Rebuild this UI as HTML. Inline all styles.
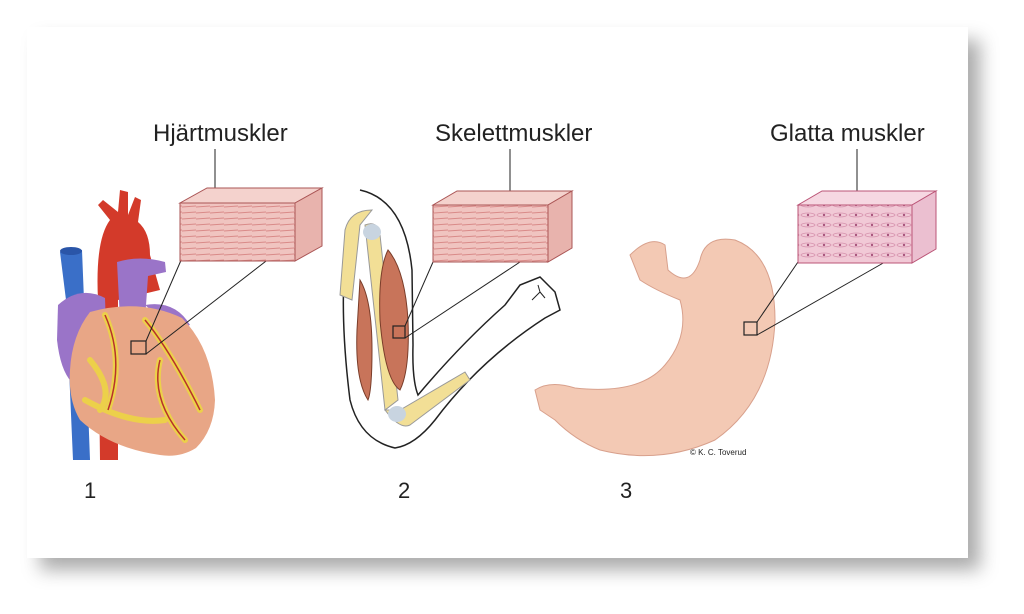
<!DOCTYPE html>
<html><head><meta charset="utf-8"><style>
html,body{margin:0;padding:0;background:#fff;width:1024px;height:614px;overflow:hidden}
svg{display:block}
text{font-family:"Liberation Sans",Arial,sans-serif;fill:#222}
</style></head><body>
<svg width="1024" height="614" viewBox="0 0 1024 614" xmlns="http://www.w3.org/2000/svg">
<defs>
<filter id="sh" x="-5%" y="-5%" width="115%" height="120%"><feGaussianBlur stdDeviation="9"/></filter>
<pattern id="fib" width="14" height="6" patternUnits="userSpaceOnUse"><rect width="14" height="6" fill="#f0c4c0"/><line x1="0" y1="3" x2="14" y2="2" stroke="#d98a88" stroke-width="1"/></pattern>
<pattern id="smo" width="16" height="10" patternUnits="userSpaceOnUse"><rect width="16" height="10" fill="#f1c9d6"/><ellipse cx="8" cy="5" rx="7" ry="2" fill="none" stroke="#d793ae" stroke-width="0.8"/><circle cx="8" cy="5" r="1.2" fill="#a8557d"/></pattern>
</defs>
<rect x="40" y="40" width="940" height="530" fill="#888" filter="url(#sh)" opacity="0.7"/>
<rect x="27" y="27" width="941" height="531" fill="#fff"/>

<text x="153" y="141" font-size="24">Hjärtmuskler</text>
<text x="435" y="141" font-size="24">Skelettmuskler</text>
<text x="770" y="141" font-size="24">Glatta muskler</text>
<text x="84" y="498" font-size="22">1</text>
<text x="398" y="498" font-size="22">2</text>
<text x="620" y="498" font-size="22">3</text>
<text x="690" y="455" font-size="8">© K. C. Toverud</text>

<!-- heart -->
<path d="M60 252 L82 250 L84 300 L90 460 L73 460 L66 300Z" fill="#3a6fc8"/>
<ellipse cx="71" cy="251" rx="11" ry="4" fill="#2a55a8"/>
<path d="M100 460 L98 300 Q95 240 110 220 L98 205 L103 200 L118 212 L120 190 L128 192 L128 215 L135 197 L141 200 L138 222 Q150 232 150 255 L160 290 L118 300 L118 460Z" fill="#d33a2a"/>
<path d="M58 305 Q80 285 105 298 L108 385 L85 390 Q62 385 57 340Z" fill="#9a74c8"/>
<path d="M117 262 Q140 255 165 262 L166 272 L148 276 L145 320 L120 320Z" fill="#9a74c8"/>
<path d="M145 305 Q175 300 190 325 L175 330Z" fill="#9a74c8"/>
<path d="M90 312 Q140 298 182 318 Q212 348 215 400 Q214 430 196 448 Q180 458 160 455 Q110 448 80 420 Q68 400 70 370 Q72 335 90 312Z" fill="#e8a686"/>
<g stroke="#ecd04a" stroke-width="6" fill="none" stroke-linecap="round">
<path d="M105 315 Q125 360 108 410"/><path d="M145 320 Q170 350 200 410"/><path d="M90 360 Q115 390 100 410"/><path d="M160 360 Q150 400 185 440"/><path d="M85 400 Q130 425 165 420"/>
</g>
<g stroke="#b8322a" stroke-width="1.5" fill="none">
<path d="M105 315 Q125 360 108 410"/><path d="M145 320 Q170 350 200 410"/><path d="M160 360 Q150 400 185 440"/>
</g>
<rect x="131" y="341" width="15" height="13" fill="none" stroke="#222" stroke-width="1.2"/>
<line x1="146" y1="341" x2="182" y2="258" stroke="#222"/><line x1="146" y1="354" x2="270" y2="258" stroke="#222"/>
<line x1="215" y1="149" x2="215" y2="198" stroke="#222"/>
<path d="M180 203 L295 203 L322 188 L207 188Z" fill="#f4d2cd" stroke="#a55"/>
<rect x="180" y="203" width="115" height="58" fill="url(#fib)" stroke="#a55"/>
<path d="M295 203 L322 188 L322 246 L295 261Z" fill="#e8b3ad" stroke="#a55"/>

<!-- arm -->
<path d="M360 190 Q405 200 412 270 L413 345 Q412 380 418 395 Q460 345 505 305 L520 285 L540 277 L555 292 L560 310 L545 318 Q480 360 435 420 Q415 445 395 448 Q360 440 350 400 Q340 320 345 260" fill="#fff" stroke="#222" stroke-width="1.5"/>
<path d="M345 230 Q350 210 372 210 L360 225 L352 300 L340 295Z" fill="#f2df96" stroke="#999"/>
<path d="M365 225 Q378 220 380 235 L398 400 L385 410Z" fill="#f2df96" stroke="#999"/>
<ellipse cx="372" cy="232" rx="9" ry="8" fill="#c8d4e0"/>
<path d="M388 250 Q405 270 408 320 Q410 370 400 390 Q385 380 380 320 Q378 270 388 250Z" fill="#c8745a" stroke="#7a3d2a"/>
<path d="M360 280 Q372 300 372 350 Q372 390 368 400 Q355 380 357 330Z" fill="#c8745a" stroke="#7a3d2a"/>
<path d="M385 410 Q400 430 410 425 L470 380 L465 372 L400 410Z" fill="#f2df96" stroke="#999"/>
<ellipse cx="397" cy="414" rx="9" ry="8" fill="#c8d4e0"/>
<path d="M532 300 L540 292 M540 292 L545 298 M540 292 L538 285" stroke="#222" fill="none"/>
<rect x="393" y="326" width="12" height="12" fill="none" stroke="#222" stroke-width="1.2"/>
<line x1="405" y1="326" x2="433" y2="262" stroke="#222"/><line x1="405" y1="338" x2="520" y2="262" stroke="#222"/>
<line x1="510" y1="149" x2="510" y2="198" stroke="#222"/>
<path d="M433 205 L548 205 L572 191 L457 191Z" fill="#f4d2cd" stroke="#a55"/>
<rect x="433" y="205" width="115" height="57" fill="url(#fib)" stroke="#a55"/>
<path d="M548 205 L572 191 L572 248 L548 262Z" fill="#e8b3ad" stroke="#a55"/>

<!-- stomach -->
<path d="M630 255 Q650 235 665 245 L668 270 Q690 290 700 260 Q705 235 735 240 Q775 255 775 320 Q772 400 715 440 Q660 465 600 450 Q575 440 555 420 L540 410 L535 390 Q550 380 575 388 Q640 395 665 365 Q690 335 680 300 Q655 290 640 280Z" fill="#f3c9b4" stroke="#d8a08c"/>
<rect x="744" y="322" width="13" height="13" fill="none" stroke="#222" stroke-width="1.2"/>
<line x1="757" y1="322" x2="798" y2="262" stroke="#222"/><line x1="757" y1="335" x2="885" y2="262" stroke="#222"/>
<line x1="857" y1="149" x2="857" y2="195" stroke="#222"/>
<path d="M798 205 L912 205 L936 191 L822 191Z" fill="#f6d8e2" stroke="#b57"/>
<rect x="798" y="205" width="114" height="58" fill="url(#smo)" stroke="#b57"/>
<path d="M912 205 L936 191 L936 249 L912 263Z" fill="#ebbfd0" stroke="#b57"/>
</svg>
</body></html>
